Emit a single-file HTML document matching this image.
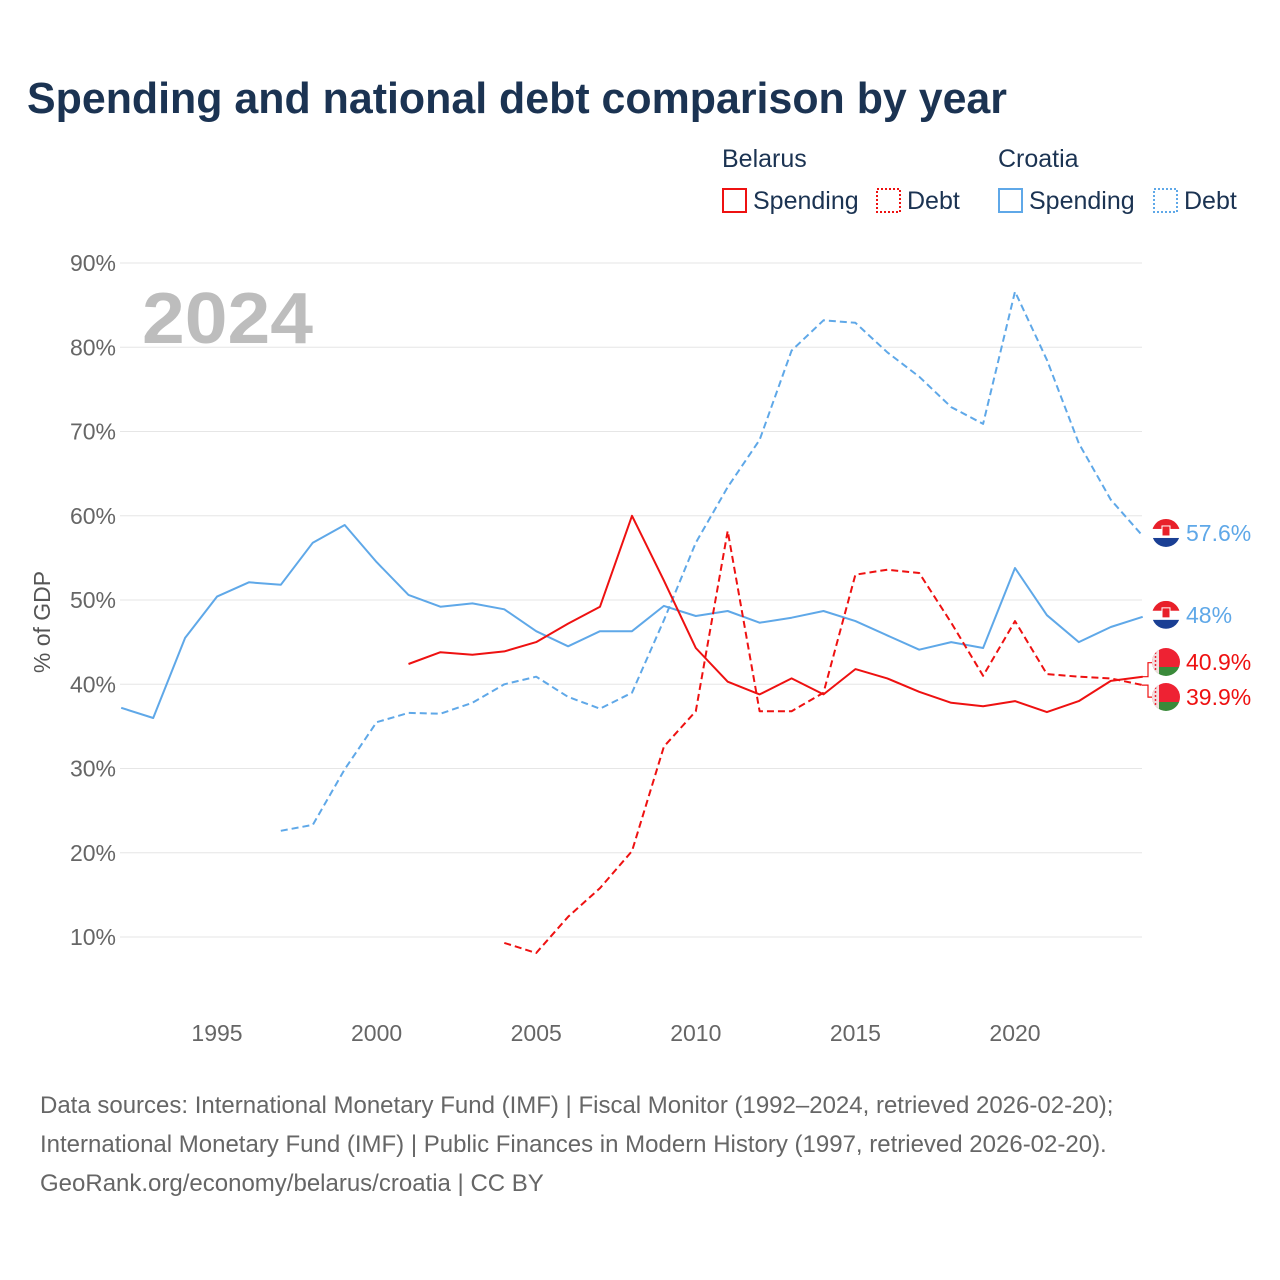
<!DOCTYPE html>
<html><head><meta charset="utf-8"><style>
body{margin:0;background:#fff;font-family:"Liberation Sans",sans-serif}
svg{display:block}
</style></head><body>
<svg id="chart" width="1280" height="1280" viewBox="0 0 1280 1280">
<text x="27" y="113" font-size="44" font-weight="bold" fill="#1b3352" textLength="980" lengthAdjust="spacingAndGlyphs">Spending and national debt comparison by year</text>
<g font-size="25" fill="#1b3352">
<text x="722" y="167" fill="#1b3352">Belarus</text>
<text x="998" y="167" fill="#1b3352">Croatia</text>
<g><rect x="723" y="189" width="23" height="23" fill="none" stroke="#ee1111" stroke-width="2"/><text x="753" y="209" fill="#1b3352">Spending</text></g>
<g><rect x="877" y="189" width="23" height="23" fill="none" stroke="#ee1111" stroke-width="2" stroke-dasharray="2,2"/><text x="907" y="209" fill="#1b3352">Debt</text></g>
<g><rect x="999" y="189" width="23" height="23" fill="none" stroke="#5fa8e8" stroke-width="2"/><text x="1029" y="209" fill="#1b3352">Spending</text></g>
<g><rect x="1154" y="189" width="23" height="23" fill="none" stroke="#5fa8e8" stroke-width="2" stroke-dasharray="2,2"/><text x="1184" y="209" fill="#1b3352">Debt</text></g>
</g>
<text x="142" y="343" font-size="72" font-weight="bold" fill="#bdbdbd" textLength="171" lengthAdjust="spacingAndGlyphs">2024</text>
<g id="grid"></g><g id="series"></g><g id="ends"></g>
<text transform="translate(50,622) rotate(-90)" text-anchor="middle" font-size="23" fill="#555">% of GDP</text>
<g font-size="24" fill="#666">
<text x="40" y="1113">Data sources: International Monetary Fund (IMF) | Fiscal Monitor (1992–2024, retrieved 2026-02-20);</text>
<text x="40" y="1152">International Monetary Fund (IMF) | Public Finances in Modern History (1997, retrieved 2026-02-20).</text>
<text x="40" y="1191">GeoRank.org/economy/belarus/croatia | CC BY</text>
</g>
</svg>
<script>
const yTicks=[10,20,30,40,50,60,70,80,90];
const xTicks=[1995,2000,2005,2010,2015,2020];
const croSpendStart=1992;
const croSpend=[37.2,36.0,45.5,50.4,52.1,51.8,56.8,58.9,54.5,50.6,49.2,49.6,48.9,46.3,44.5,46.3,46.3,49.3,48.1,48.7,47.3,47.9,48.7,47.5,45.8,44.1,45.0,44.3,53.8,48.2,45.0,46.8,48.0];
const croDebtStart=1997;
const croDebt=[22.6,23.3,29.9,35.5,36.6,36.5,37.8,40.0,40.9,38.5,37.1,39.0,47.6,56.8,63.4,69.0,79.6,83.2,82.9,79.4,76.5,72.9,70.9,86.6,78.5,68.6,61.9,57.6];
const blrSpendStart=2001;
const blrSpend=[42.4,43.8,43.5,43.9,45.0,47.2,49.2,60.0,52.3,44.3,40.3,38.8,40.7,38.8,41.8,40.7,39.1,37.8,37.4,38.0,36.7,38.0,40.4,40.9];
const blrDebtStart=2004;
const blrDebt=[9.3,8.1,12.4,15.8,20.2,32.6,36.8,58.2,36.8,36.8,39.0,53.0,53.6,53.2,47.3,41.0,47.5,41.2,40.9,40.7,39.9];
const NS="http://www.w3.org/2000/svg";
const xS=y=>217+(y-1995)*31.92;
const yS=v=>937-(v-10)*8.425;
function mk(t,a,p){const e=document.createElementNS(NS,t);for(const k in a)e.setAttribute(k,a[k]);p.appendChild(e);return e;}
const grid=document.getElementById('grid');
yTicks.forEach(v=>{
 const l=mk('line',{x1:120,x2:1142,y1:yS(v),y2:yS(v),stroke:'#e6e6e6','stroke-width':1},grid);
 
 
 const t=mk('text',{x:116,y:yS(v)+8,'text-anchor':'end','font-size':23,fill:'#666'},grid);
 t.textContent=v+'%';
 
 
});
xTicks.forEach(y=>{
 const t=mk('text',{x:xS(y),y:1041,'text-anchor':'middle','font-size':23,fill:'#666'},grid);
 t.textContent=y;
 
 
});
const ser=document.getElementById('series');
function line(arr,start,color,dash,name){
 const d=arr.map((v,i)=>(i?'L':'M')+xS(start+i).toFixed(1)+','+yS(v).toFixed(1)).join('');
 const p=mk('path',{d:d,fill:'none',stroke:color,'stroke-width':2,'stroke-dasharray':dash||'none','stroke-linejoin':'round'},ser);
 
 
}
line(croSpend,croSpendStart,'#5fa8e8',null,'croatia-spending-line');
line(croDebt,croDebtStart,'#5fa8e8','7,4','croatia-debt-line');
line(blrSpend,blrSpendStart,'#ee1111',null,'belarus-spending-line');
line(blrDebt,blrDebtStart,'#ee1111','7,4','belarus-debt-line');
const ends=document.getElementById('ends');
function flag(cx,cy,country){
 const g=mk('g',{},ends);
 
 
 const id='c'+Math.round(cy);
 const cp=mk('clipPath',{id:id},g);mk('circle',{cx:cx,cy:cy,r:14},cp);
 const gg=mk('g',{'clip-path':'url(#'+id+')'},g);
 if(country==='croatia'){
  mk('rect',{x:cx-14,y:cy-14,width:28,height:10,fill:'#e8202a'},gg);
  mk('rect',{x:cx-14,y:cy-4,width:28,height:9,fill:'#fff'},gg);
  mk('rect',{x:cx-14,y:cy+5,width:28,height:9,fill:'#1a3f94'},gg);
  mk('rect',{x:cx-4,y:cy-7,width:8,height:10,fill:'#e8202a',stroke:'#fff','stroke-width':1},gg);
 }else{
  mk('rect',{x:cx-14,y:cy-14,width:28,height:19,fill:'#ee2233'},gg);
  mk('rect',{x:cx-14,y:cy+5,width:28,height:9,fill:'#3a8a3a'},gg);
  mk('rect',{x:cx-14,y:cy-14,width:7,height:28,fill:'#f2dede'},gg);
  mk('line',{x1:cx-10.5,x2:cx-10.5,y1:cy-14,y2:cy+14,stroke:'#ee2233','stroke-width':1.5,'stroke-dasharray':'2,2'},gg);
 }
}
function endLabel(v,ly,color,country,name){
 flag(1166,ly,country);
 const t=mk('text',{x:1186,y:ly+8,'font-size':23,fill:color},ends);
 t.textContent=(Math.round(v*10)/10)+'%';
 
 
}
endLabel(croDebt[croDebt.length-1],yS(croDebt[croDebt.length-1])-3,'#5fa8e8','croatia','croatia-debt-end-label');
endLabel(croSpend[croSpend.length-1],yS(croSpend[croSpend.length-1])-2,'#5fa8e8','croatia','croatia-spending-end-label');
mk('path',{d:'M1142,'+yS(blrSpend[blrSpend.length-1])+' h6 v-14 h5',fill:'none',stroke:'#ee1111','stroke-width':1.2},ends);
mk('path',{d:'M1142,'+yS(blrDebt[blrDebt.length-1])+' h6 v12 h5',fill:'none',stroke:'#ee1111','stroke-width':1.2},ends);
endLabel(blrSpend[blrSpend.length-1],662,'#ee1111','belarus','belarus-spending-end-label');
endLabel(blrDebt[blrDebt.length-1],697,'#ee1111','belarus','belarus-debt-end-label');
</script>
</body></html>
